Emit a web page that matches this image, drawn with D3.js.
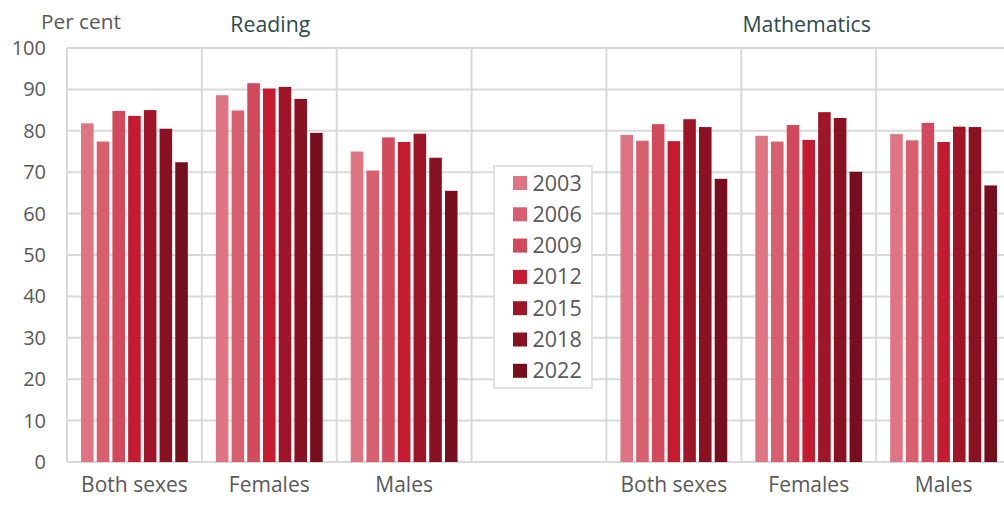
<!DOCTYPE html>
<html>
<head>
<meta charset="utf-8">
<script src="https://cdnjs.cloudflare.com/ajax/libs/d3/7.8.5/d3.min.js"></script>
<style>
  body { margin: 0; background: #fff; }
  text { font-family: "Open Sans", sans-serif; }
</style>
</head>
<body>
<script>
  // categories along x (blank slot separates the two subjects)
  const groups = ["R-Both", "R-Females", "R-Males", "gap", "M-Both", "M-Females", "M-Males"];
  const groupLabels = ["Both sexes", "Females", "Males", "", "Both sexes", "Females", "Males"];
  const years = ["2003", "2006", "2009", "2012", "2015", "2018", "2022"];
  const colors = ["#df7582", "#d75f6e", "#d1495a", "#c41b30", "#9e1527", "#891122", "#760e1d"];
  const yTicks = [0, 10, 20, 30, 40, 50, 60, 70, 80, 90, 100];

  // per cent, one value per year
  const readingBoth    = [81.8, 77.4, 84.8, 83.6, 85.0, 80.5, 72.4];
  const readingFemales = [88.6, 84.9, 91.5, 90.2, 90.6, 87.7, 79.5];
  const readingMales   = [75.0, 70.4, 78.4, 77.3, 79.3, 73.5, 65.5];
  const mathBoth       = [79.0, 77.6, 81.6, 77.5, 82.8, 80.9, 68.4];
  const mathFemales    = [78.8, 77.4, 81.4, 77.8, 84.5, 83.1, 70.1];
  const mathMales      = [79.2, 77.7, 81.9, 77.3, 81.0, 80.9, 66.8];

  const seriesByGroup = {
    "R-Both": readingBoth, "R-Females": readingFemales, "R-Males": readingMales,
    "M-Both": mathBoth, "M-Females": mathFemales, "M-Males": mathMales
  };

  const w = 1004, h = 506;
  const padLeft = 67, padRight = 1011, padTop = 48, padBottom = 462;

  const svg = d3.select("body").append("svg")
    .attr("width", w).attr("height", h);

  const x0 = d3.scaleBand().domain(groups).range([padLeft, padRight]);
  const bw = x0.bandwidth();
  const x1 = d3.scaleBand().domain(years)
    .range([bw * 0.104, bw * 0.896]).paddingInner(0.2);
  const y = d3.scaleLinear().domain([0, 100]).range([padBottom, padTop]);

  const grid = "#d9d9d9";

  // horizontal gridlines
  svg.append("g").selectAll("line")
    .data(yTicks).enter().append("line")
    .attr("x1", padLeft).attr("x2", w)
    .attr("y1", d => y(d)).attr("y2", d => y(d))
    .attr("stroke", grid).attr("stroke-width", 2);

  // vertical separators
  svg.append("g").selectAll("line")
    .data(groups).enter().append("line")
    .attr("x1", d => x0(d)).attr("x2", d => x0(d))
    .attr("y1", y(100)).attr("y2", y(0))
    .attr("stroke", grid).attr("stroke-width", 2);

  // y axis labels
  const yAxis = d3.axisLeft(y).tickValues(yTicks).tickSize(0).tickPadding(0);
  const gy = svg.append("g")
    .attr("transform", "translate(46,0)")
    .call(yAxis);
  gy.select(".domain").remove();
  gy.selectAll("text")
    .attr("font-size", 20).attr("fill", "#595959")
    .style("font-family", "'Open Sans', sans-serif");

  // x axis labels
  const xAxis = d3.axisBottom(x0).tickSize(0).tickPadding(0)
    .tickFormat((d, i) => groupLabels[i]);
  const gx = svg.append("g")
    .attr("transform", "translate(0,477)")
    .call(xAxis);
  gx.select(".domain").remove();
  gx.selectAll("text")
    .attr("font-size", 21).attr("fill", "#595959")
    .style("font-family", "'Open Sans', sans-serif");

  // bars
  const gBars = svg.append("g").selectAll("g")
    .data(groups.filter(g => seriesByGroup[g]))
    .enter().append("g")
    .attr("transform", d => "translate(" + x0(d) + ",0)");

  gBars.selectAll("rect")
    .data(g => seriesByGroup[g].map((v, i) => ({ year: years[i], value: v, c: colors[i] })))
    .enter().append("rect")
    .attr("x", d => x1(d.year))
    .attr("width", x1.bandwidth())
    .attr("y", d => y(d.value))
    .attr("height", d => y(0) - y(d.value))
    .attr("fill", d => d.c);

  // titles
  svg.append("text").attr("x", 41).attr("y", 29)
    .attr("font-size", 20.8).attr("fill", "#595959").text("Per cent");
  svg.append("text").attr("x", x0("R-Females") + bw / 2 + 1).attr("y", 32)
    .attr("text-anchor", "middle").attr("font-size", 21.3).attr("fill", "#2e4a4f")
    .text("Reading");
  svg.append("text").attr("x", x0("M-Females") + bw / 2 - 2).attr("y", 32)
    .attr("text-anchor", "middle").attr("font-size", 21.3).attr("fill", "#2e4a4f")
    .text("Mathematics");

  // legend
  const lg = svg.append("g").attr("transform", "translate(494,166)");
  lg.append("rect").attr("width", 98).attr("height", 222)
    .attr("fill", "#fff").attr("stroke", grid).attr("stroke-width", 1.5);
  const items = lg.selectAll("g.item").data(years).enter().append("g")
    .attr("class", "item")
    .attr("transform", (d, i) => "translate(0," + (10 + i * 31.3) + ")");
  items.append("rect").attr("x", 19).attr("width", 14).attr("height", 14)
    .attr("fill", (d, i) => colors[i]);
  items.append("text").attr("x", 38.5).attr("y", 14.5)
    .attr("font-size", 21.5).attr("fill", "#595959").text(d => d);
</script>
</body>
</html>
